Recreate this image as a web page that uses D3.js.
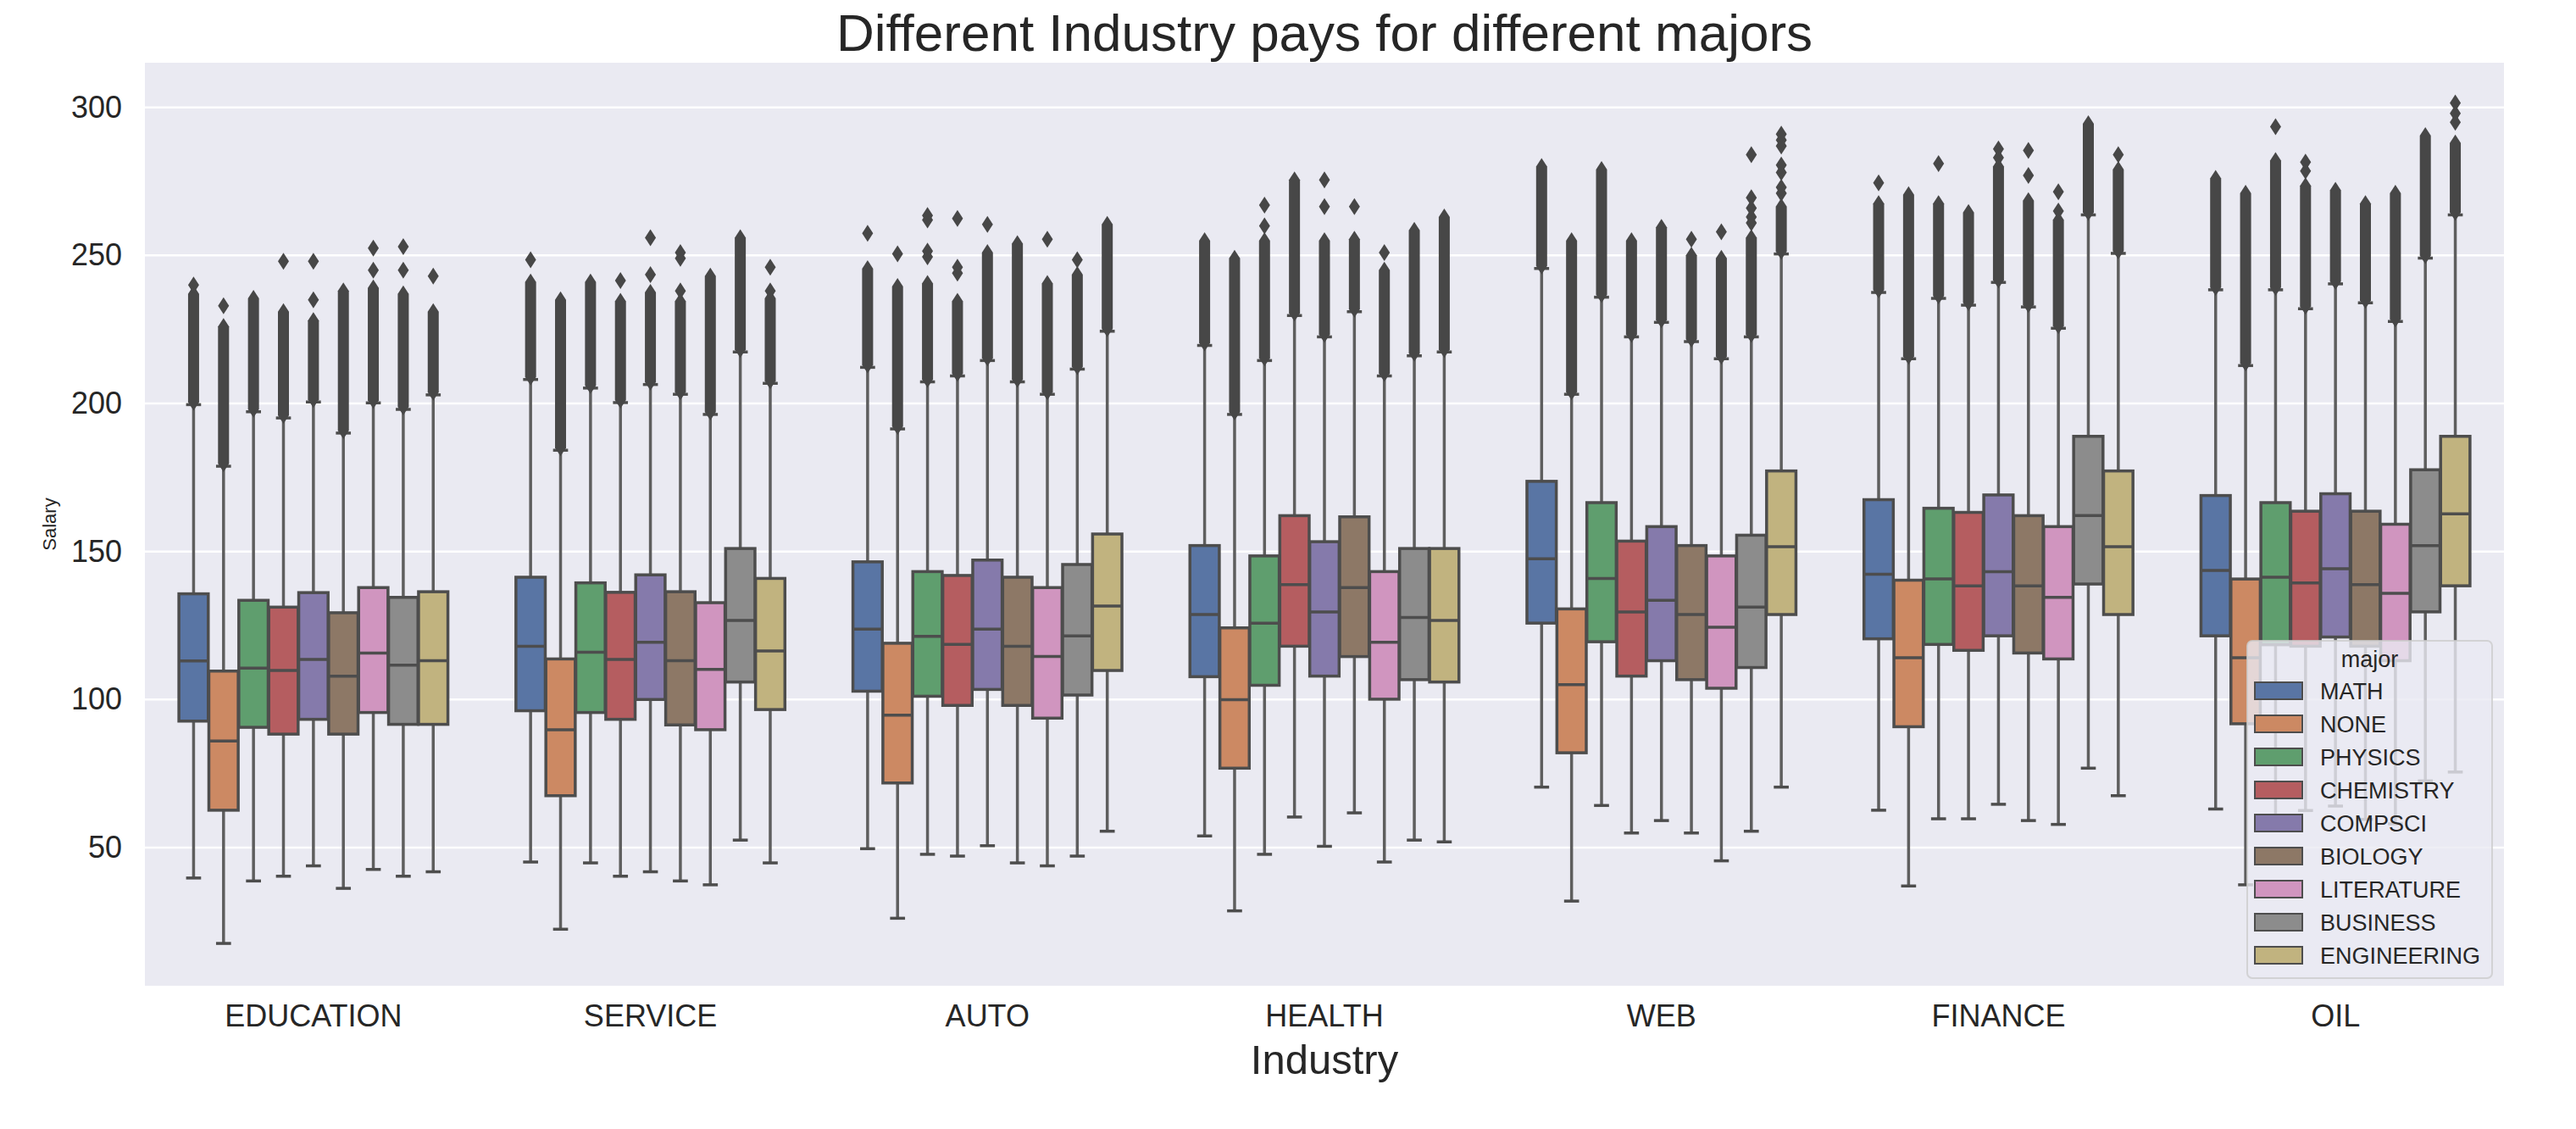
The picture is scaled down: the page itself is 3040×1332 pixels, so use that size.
<!DOCTYPE html>
<html lang="en">
<head>
<meta charset="UTF-8">
<title>Different Industry pays for different majors</title>
<script src="https://cdn.jsdelivr.net/npm/d3@7"></script>
<style>
  body { margin: 0; background: #fff; }
  svg text { font-family: Arial, "Liberation Sans", Helvetica, sans-serif; fill: #262626; }
</style>
</head>
<body>
<svg id="chart"></svg>
<script>
    const industries = ["EDUCATION", "SERVICE", "AUTO", "HEALTH", "WEB", "FINANCE", "OIL"];
    const majors = ["MATH", "NONE", "PHYSICS", "CHEMISTRY", "COMPSCI", "BIOLOGY", "LITERATURE", "BUSINESS", "ENGINEERING"];
    const majorColors = ["#5975a4", "#cc8963", "#5f9e6e", "#b55d60", "#857aab", "#8d7866", "#d095bf", "#8c8c8c", "#c1b37f"];
    const yTicks = [50, 100, 150, 200, 250, 300];

    // one row per industry, one column per major
    const whiskerLow = [
        [39.7, 17.6, 38.7, 40.3, 43.8, 36.2, 42.6, 40.3, 41.8],
        [45.1, 22.4, 44.8, 40.3, 41.8, 38.7, 37.4, 52.5, 44.8],
        [49.6, 26.1, 47.7, 47.1, 50.6, 44.8, 43.8, 47.1, 55.5],
        [53.9, 28.6, 47.7, 60.3, 50.4, 61.7, 45.1, 52.5, 51.9],
        [70.4, 31.9, 64.2, 54.9, 59.1, 54.9, 45.5, 55.5, 70.4],
        [62.6, 37.0, 59.7, 59.7, 64.6, 59.1, 57.8, 76.8, 67.5],
        [63.0, 37.4, 60.0, 62.5, 64.0, 59.5, 58.0, 72.5, 75.5]
    ];
    const q1 = [
        [92.7, 62.6, 90.6, 88.3, 93.3, 88.3, 95.6, 91.6, 91.6],
        [96.2, 67.5, 95.6, 93.3, 100.0, 91.4, 89.8, 105.9, 96.6],
        [102.8, 71.8, 101.1, 98.0, 103.4, 98.0, 93.7, 101.5, 109.8],
        [107.7, 76.8, 104.8, 118.0, 107.9, 114.5, 100.1, 106.7, 105.9],
        [125.8, 82.0, 119.5, 107.9, 113.1, 106.7, 103.8, 110.8, 128.7],
        [120.5, 90.8, 118.6, 116.6, 121.5, 115.7, 113.7, 139.0, 128.7],
        [121.5, 91.8, 118.5, 118.0, 121.1, 118.0, 113.1, 129.6, 138.4]
    ];
    const median = [
        [113.0, 86.0, 110.6, 109.8, 113.5, 107.9, 115.7, 111.6, 113.1],
        [118.0, 89.8, 116.0, 113.5, 119.3, 113.1, 110.2, 126.7, 116.4],
        [123.8, 94.7, 121.3, 118.6, 123.8, 118.0, 114.5, 121.5, 131.6],
        [128.7, 99.9, 125.8, 138.8, 129.6, 137.8, 119.3, 127.7, 126.7],
        [147.5, 105.0, 140.9, 129.6, 133.5, 128.7, 124.4, 131.2, 151.6],
        [142.3, 114.1, 140.7, 138.4, 143.2, 138.4, 134.5, 162.1, 151.6],
        [143.6, 114.1, 141.3, 139.4, 144.2, 138.8, 135.9, 152.0, 162.7]
    ];
    const q3 = [
        [135.7, 109.6, 133.5, 131.2, 136.1, 129.3, 137.8, 134.5, 136.4],
        [141.3, 113.7, 139.4, 136.2, 142.1, 136.4, 132.7, 151.0, 140.9],
        [146.5, 119.0, 143.2, 141.9, 147.1, 141.3, 137.8, 145.6, 155.9],
        [152.0, 124.2, 148.5, 162.1, 153.3, 161.7, 143.2, 151.0, 151.0],
        [173.7, 130.6, 166.5, 153.5, 158.4, 152.0, 148.5, 155.5, 177.2],
        [167.5, 140.3, 164.6, 163.2, 169.1, 162.1, 158.4, 188.9, 177.2],
        [168.9, 140.7, 166.5, 163.6, 169.5, 163.6, 159.2, 177.6, 188.9]
    ];
    const whiskerHigh = [
        [199.6, 178.8, 197.2, 195.1, 200.5, 190.0, 200.2, 198.0, 202.9],
        [208.1, 184.2, 205.2, 200.3, 206.4, 203.1, 196.3, 217.4, 206.8],
        [212.2, 191.4, 207.3, 209.3, 214.5, 207.3, 203.1, 211.6, 224.4],
        [219.6, 196.3, 214.5, 229.7, 222.5, 231.0, 209.3, 216.1, 217.4],
        [245.6, 203.1, 235.9, 222.5, 227.4, 220.9, 215.1, 222.5, 250.5],
        [237.5, 215.1, 235.5, 233.2, 240.9, 232.6, 225.4, 263.7, 250.7],
        [238.4, 212.8, 238.4, 232.0, 240.4, 234.0, 227.7, 249.1, 263.7]
    ];
    // top of the dense run of outliers above each upper whisker
    const outlierTop = [
        [237, 226, 235.5, 231, 228, 238, 239, 237, 231],
        [241, 235, 241, 234.5, 237.5, 234.5, 243, 256, 235.5],
        [245.5, 239.5, 240.5, 234.5, 251, 254, 240.5, 243.5, 260.5],
        [255, 249, 255, 275.5, 255, 255.5, 245, 258.5, 263],
        [280, 255, 279, 255, 259.5, 250, 249, 256, 266.5],
        [267.5, 270.5, 267.5, 264.5, 280, 268.5, 262, 294.5, 279],
        [276, 271, 282, 273.5, 272, 267.5, 271, 290.5, 288]
    ];
    // isolated outliers above the dense run
    const outlierSparse = [
        [[240], [233], [], [248], [235, 248], [], [245, 252.5], [245, 253], [243]],
        [[248.5], [], [], [241.5], [243.5, 256], [238, 249, 251], [], [], [238, 246]],
        [[257.5], [250.5], [249.5, 251.5, 262, 263.5], [244, 246, 262.5], [260.5], [], [255.5], [248.5], []],
        [[], [], [260, 267], [], [266.5, 275.5], [266.5], [251], [], []],
        [[], [], [], [], [], [255.5], [258], [261, 263, 266, 269.5, 284], [271, 273, 278, 280.5, 287, 289, 291]],
        [[274.5], [], [281], [], [283, 286], [277, 285.5], [265, 271.5], [], [284]],
        [[], [], [293.5], [278.5, 281.5], [], [], [], [], [295, 298, 301.5]]
    ];

    const W = 3040, H = 1332;
    const plot = {left: 171, right: 2955, top: 74, bottom: 1163};
    const lineColor = "#4d4d4d";
    const whiskerColor = "#5e5e5e";

    const svg = d3.select("#chart").attr("width", W).attr("height", H);

    const x = d3.scaleBand().domain(industries).range([plot.left, plot.right]);
    const hue = d3.scaleBand().domain(majors).range([0.1 * x.bandwidth(), 0.9 * x.bandwidth()]);
    const y = d3.scaleLinear().domain([3.3, 315.1]).range([plot.bottom, plot.top]);

    // background + grid
    svg.append("rect")
        .attr("x", plot.left).attr("y", plot.top)
        .attr("width", plot.right - plot.left).attr("height", plot.bottom - plot.top)
        .attr("fill", "#eaeaf2");

    svg.append("g").selectAll("line")
        .data(yTicks).enter().append("line")
        .attr("x1", plot.left).attr("x2", plot.right)
        .attr("y1", d => y(d)).attr("y2", d => y(d))
        .attr("stroke", "#fff").attr("stroke-width", 2.5);

    // axes (tick labels only, seaborn darkgrid has no tick marks)
    const yAxis = svg.append("g")
        .attr("transform", "translate(" + plot.left + ",0)")
        .call(d3.axisLeft(y).tickValues(yTicks).tickSize(0).tickPadding(27));
    yAxis.select(".domain").remove();
    yAxis.selectAll("text").attr("font-size", 36).attr("fill", null);

    const xAxis = svg.append("g")
        .attr("transform", "translate(0," + plot.bottom + ")")
        .call(d3.axisBottom(x).tickSize(0).tickPadding(22));
    xAxis.select(".domain").remove();
    xAxis.selectAll("text").attr("font-size", 36).attr("fill", null);

    svg.selectAll(".tick").attr("font-family", null);

    const boxes = [];
    industries.forEach(function (ind, i) {
        majors.forEach(function (m, j) {
            boxes.push({
                ind: ind, major: m, j: j,
                lo: whiskerLow[i][j], q1: q1[i][j], med: median[i][j], q3: q3[i][j], hi: whiskerHigh[i][j],
                top: outlierTop[i][j], sparse: outlierSparse[i][j]
            });
        });
    });

    const bw = hue.bandwidth() * 0.98;
    const capW = hue.bandwidth() * 0.5;
    const cx = d => x(d.ind) + hue(d.major) + hue.bandwidth() / 2;

    const g = svg.append("g").attr("class", "boxes");

    const box = g.selectAll("g.box").data(boxes).enter().append("g").attr("class", "box");

    // whiskers
    box.append("line")
        .attr("x1", cx).attr("x2", cx)
        .attr("y1", d => y(d.q1)).attr("y2", d => y(d.lo))
        .attr("stroke", whiskerColor).attr("stroke-width", 3.5);
    box.append("line")
        .attr("x1", cx).attr("x2", cx)
        .attr("y1", d => y(d.q3)).attr("y2", d => y(d.hi))
        .attr("stroke", whiskerColor).attr("stroke-width", 3.5);
    // caps
    box.append("line")
        .attr("x1", d => cx(d) - capW / 2).attr("x2", d => cx(d) + capW / 2)
        .attr("y1", d => y(d.lo)).attr("y2", d => y(d.lo))
        .attr("stroke", lineColor).attr("stroke-width", 3.5);
    box.append("line")
        .attr("x1", d => cx(d) - capW / 2).attr("x2", d => cx(d) + capW / 2)
        .attr("y1", d => y(d.hi)).attr("y2", d => y(d.hi))
        .attr("stroke", lineColor).attr("stroke-width", 3.5);

    // box body
    box.append("rect")
        .attr("x", d => cx(d) - bw / 2)
        .attr("width", bw)
        .attr("y", d => y(d.q3))
        .attr("height", d => y(d.q1) - y(d.q3))
        .attr("fill", d => majorColors[d.j])
        .attr("stroke", lineColor).attr("stroke-width", 3.5);

    // median
    box.append("line")
        .attr("x1", d => cx(d) - bw / 2).attr("x2", d => cx(d) + bw / 2)
        .attr("y1", d => y(d.med)).attr("y2", d => y(d.med))
        .attr("stroke", lineColor).attr("stroke-width", 3.5);

    // dense run of fliers (thin diamonds merging into a column)
    const fw = 6.5, fh = 10;
    box.append("path")
        .attr("d", function (d) {
            const c = cx(d), yb = y(d.hi) - 3, yt = y(d.top);
            return "M" + c + "," + (yt - fh) + "L" + (c + fw) + "," + yt + "L" + (c + fw) + "," + yb +
                "L" + c + "," + (yb + fh) + "L" + (c - fw) + "," + yb + "L" + (c - fw) + "," + yt + "Z";
        })
        .attr("fill", "#474747");

    // isolated fliers
    box.selectAll("path.flier")
        .data(d => d.sparse.map(v => ({c: cx(d), v: v})))
        .enter().append("path")
        .attr("class", "flier")
        .attr("d", function (p) {
            const yy = y(p.v);
            return "M" + p.c + "," + (yy - fh) + "L" + (p.c + fw) + "," + yy + "L" + p.c + "," + (yy + fh) +
                "L" + (p.c - fw) + "," + yy + "Z";
        })
        .attr("fill", "#474747");

    // titles
    svg.append("text")
        .attr("x", (plot.left + plot.right) / 2).attr("y", 60)
        .attr("text-anchor", "middle").attr("font-size", 62)
        .text("Different Industry pays for different majors");

    svg.append("text")
        .attr("x", (plot.left + plot.right) / 2).attr("y", 1267)
        .attr("text-anchor", "middle").attr("font-size", 49)
        .text("Industry");

    svg.append("text")
        .attr("transform", "translate(66," + (plot.top + plot.bottom) / 2 + ") rotate(-90)")
        .attr("text-anchor", "middle").attr("font-size", 22)
        .text("Salary");

    // legend
    const legend = svg.append("g").attr("class", "legend").attr("transform", "translate(2652,756)");
    legend.append("rect")
        .attr("width", 289).attr("height", 398).attr("rx", 6)
        .attr("fill", "#eaeaf2").attr("fill-opacity", 0.8)
        .attr("stroke", "#cccccc").attr("stroke-opacity", 0.8).attr("stroke-width", 2);
    legend.append("text")
        .attr("x", 144.5).attr("y", 31)
        .attr("text-anchor", "middle").attr("font-size", 27)
        .text("major");
    const item = legend.selectAll("g.item").data(majors).enter().append("g")
        .attr("class", "item")
        .attr("transform", (d, i) => "translate(0," + (59 + i * 39) + ")");
    item.append("rect")
        .attr("x", 9).attr("y", -10).attr("width", 56).attr("height", 20)
        .attr("fill", (d, i) => majorColors[i])
        .attr("stroke", lineColor).attr("stroke-width", 2);
    item.append("text")
        .attr("x", 86).attr("y", 10)
        .attr("font-size", 27)
        .text(d => d);
</script>
</body>
</html>
